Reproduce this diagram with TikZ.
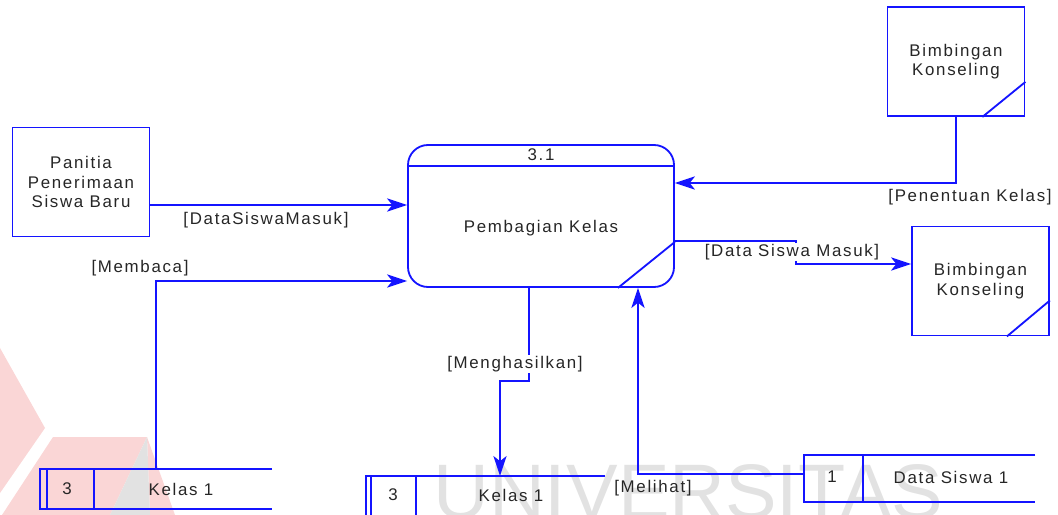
\documentclass[tikz,border=0pt]{standalone}
\usepackage{fontspec}
\setmainfont{Liberation Sans}
\newfontfamily\dfdfont[LetterSpace=10]{Liberation Sans}
\usetikzlibrary{arrows.meta, positioning, calc}
\definecolor{dfdblue}{HTML}{1414FF}
\definecolor{dfdtext}{HTML}{262626}
\definecolor{wmpink}{HTML}{FAD6D6}
\definecolor{wmgray}{HTML}{E2E2E2}
\tikzset{
  line/.style={draw=dfdblue, line width=1.3pt},
  txt/.style={font=\dfdfont\fontsize{12}{14}\selectfont, text=dfdtext, inner sep=1pt},
  entity/.style={line, minimum width=34.25mm, minimum height=27.25mm,
                 align=center, font=\dfdfont\fontsize{12}{14}\selectfont, text=dfdtext},
  proc/.style={line, rounded corners=5mm, minimum width=66.5mm, minimum height=35.5mm},
  store/.style={inner sep=0pt, outer sep=0pt},
}

\begin{document}
\begin{tikzpicture}[
  x=0.25mm, y=-0.25mm,
  flow/.style={line, -{Stealth[length=5mm, width=3.3mm, inset=1.3mm]}},
  lbl/.style={txt, inner sep=1pt},
  wmark/.style={anchor=base west, inner sep=0pt, text=wmgray,
                font=\fontsize{55}{55}\selectfont}]
  \useasboundingbox (0,0) rectangle (1058,515);
  \clip (0,0) rectangle (1058,515);
  % watermark
  \fill[wmpink] (0,348) -- (45,428) -- (0,493) -- cycle;
  \fill[wmpink] (53,437) -- (147,437) -- (110,515) -- (2,515) -- cycle;
  \fill[wmpink] (147,437) -- (175,515) -- (150,515) -- cycle;
  \fill[wmgray] (147,437) -- (150,515) -- (110,515) -- cycle;
  \node[wmark] (wm) at (433,518) {UNIVERSITAS};
  % entities
  \node[entity] (panitia) at (81,182) {Panitia\\Penerimaan\\Siswa Baru};
  \node[entity] (bkA) at (956,61.5) {Bimbingan\\Konseling};
  \node[entity] (bkB) at (980.5,281) {Bimbingan\\Konseling};
  \draw[line] ($(bkA.south east)+(-43,0)$) -- ($(bkA.south east)+(0,-35)$);
  \draw[line] ($(bkB.south east)+(-43,0)$) -- ($(bkB.south east)+(0,-36)$);
  % process
  \node[proc] (pemb) at (541,216) {};
  \draw[line] ($(pemb.north west)+(0,22)$) -- ($(pemb.north east)+(0,22)$);
  \draw[line] ($(pemb.south east)+(-57,0)$) -- ($(pemb.south east)+(0,-46)$);
  \node[txt] (pembid) at (541,155) {3.1};
  \node[txt] (pembname) at (541,228) {Pembagian Kelas};
  % data stores
  \node[store, minimum width=58mm, minimum height=10mm] (kelasA) at (156,489) {};
  \node[store, minimum width=59.75mm, minimum height=10mm] (kelasB) at (485.5,496) {};
  \node[store, minimum width=57.75mm, minimum height=11.75mm] (dsiswa) at (919.5,478.5) {};
  \foreach \s in {kelasA,kelasB,dsiswa}
    \draw[line] (\s.north east) -- (\s.north west) -- (\s.south west) -- (\s.south east);
  \draw[line] ($(kelasA.north west)+(7,0)$) -- ($(kelasA.south west)+(7,0)$);
  \draw[line] ($(kelasA.north west)+(54,0)$) -- ($(kelasA.south west)+(54,0)$);
  \draw[line] ($(kelasB.north west)+(5,0)$) -- ($(kelasB.south west)+(5,0)$);
  \draw[line] ($(kelasB.north west)+(50,0)$) -- ($(kelasB.south west)+(50,0)$);
  \draw[line] ($(dsiswa.north west)+(59,0)$) -- ($(dsiswa.south west)+(59,0)$);
  \node[txt] (kelasAid) at (67,489) {3};
  \node[txt] (kelasAname) at (181,489) {Kelas 1};
  \node[txt] (kelasBid) at (393,495) {3};
  \node[txt] (kelasBname) at (511,495) {Kelas 1};
  \node[txt] (dsiswaid) at (832,477) {1};
  \node[txt] (dsiswaname) at (951,477) {Data Siswa 1};
  % flows
  \draw[flow] ($(panitia.east)+(0,23)$) coordinate (dsmA) -- (dsmA -| pemb.west);
  \draw[flow] (kelasA.north) |- ($(pemb.west)+(0,65)$);
  \draw[flow] ($(pemb.south)+(-12,0)$) -- ++(0,93) -| ($(kelasB.north)+(14.5,0)$);
  \draw[flow] ($(dsiswa.west)+(0,-4.5)$) -| ($(pemb.south)+(97,0)$);
  \draw[flow] (bkA.south) |- ($(pemb.east)+(0,-33)$);
  \draw[flow] ($(pemb.east)+(0,25)$) -- ++(121,0) |- ($(bkB.west)+(0,-17)$);
  % flow labels
  \node[lbl] (lblDataSiswaMasuk) at (266,220) {[DataSiswaMasuk]};
  \node[lbl] (lblMembaca) at (140,268) {[Membaca]};
  \node[lbl, fill=white] (lblMenghasilkan) at (515,364) {[Menghasilkan]};
  \node[lbl] (lblMelihat) at (653,488) {[Melihat]};
  \node[lbl] (lblPenentuan) at (970,197) {[Penentuan Kelas]};
  \node[lbl, fill=white] (lblDsm) at (792,252) {[Data Siswa Masuk]};
\end{tikzpicture}
\end{document}
